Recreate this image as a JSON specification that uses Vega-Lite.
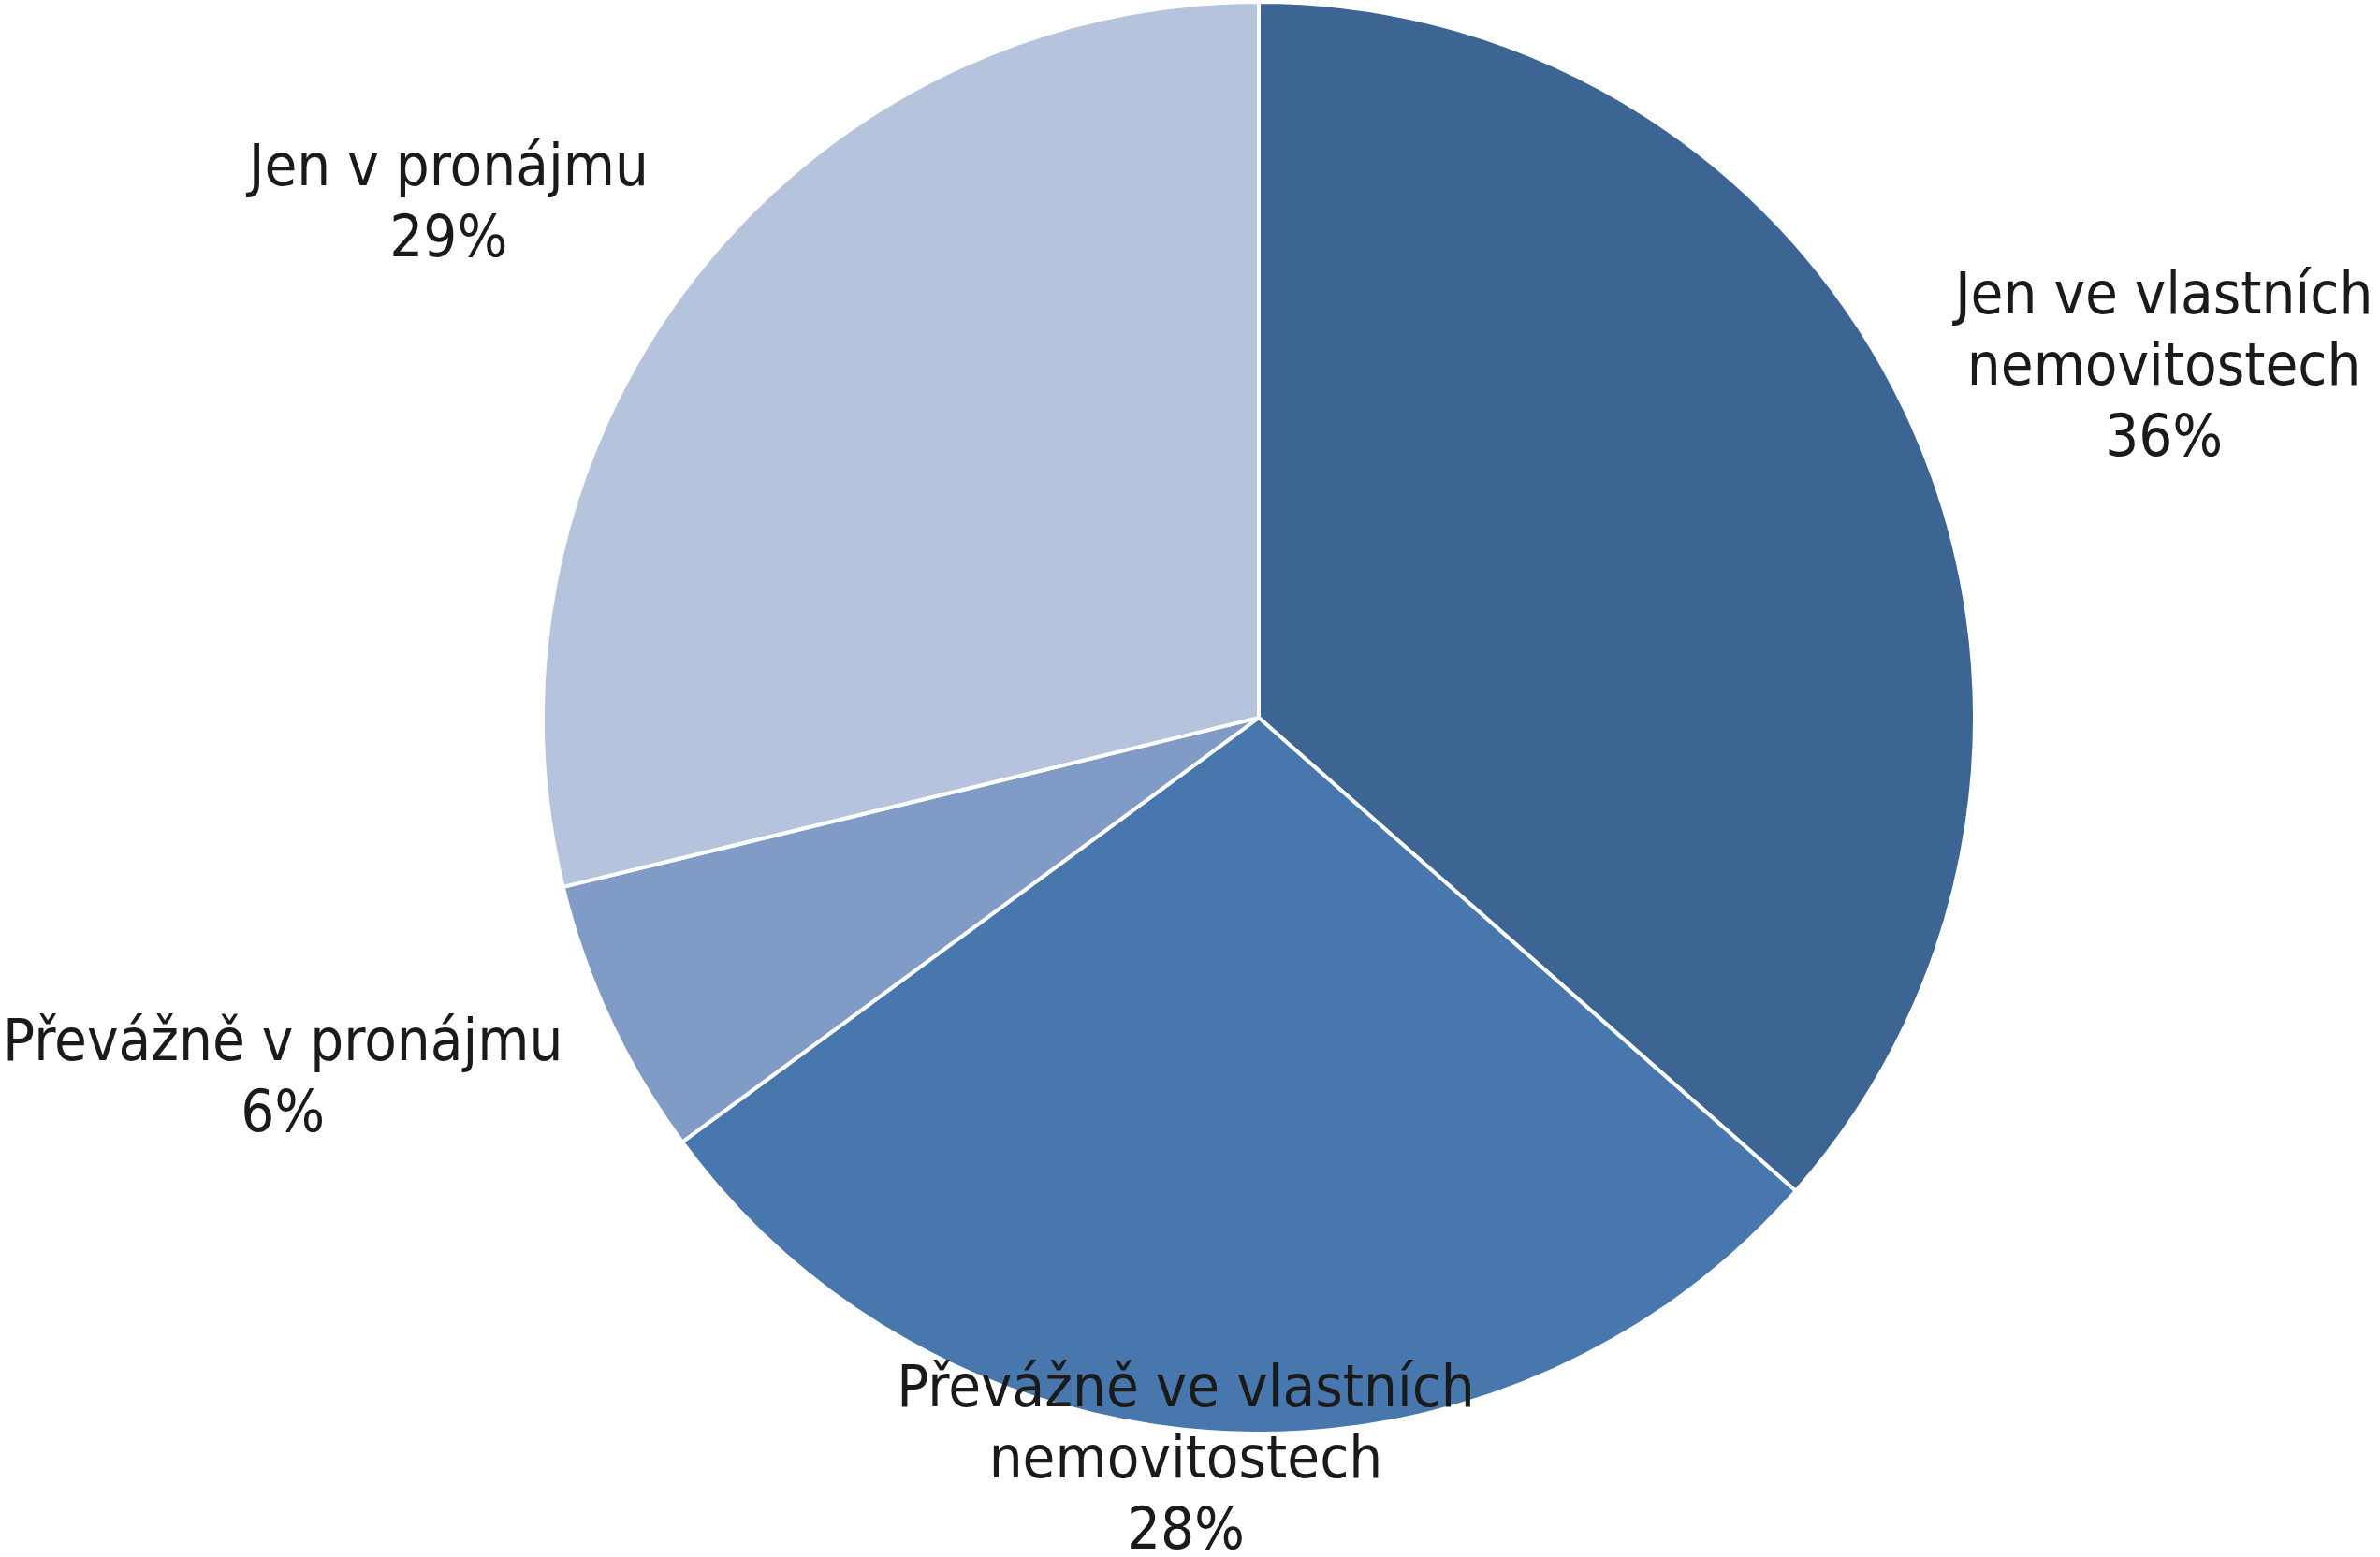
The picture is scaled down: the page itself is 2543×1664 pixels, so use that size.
{
  "$schema": "https://vega.github.io/schema/vega-lite/v6.json",
  "width": 2396,
  "height": 1534,
  "autosize": {"type": "none"},
  "padding": {"left": 147, "top": 0, "right": 0, "bottom": 130},
  "background": "white",
  "view": {"stroke": null},
  "config": {"text": {"font": "DejaVu Sans Condensed", "fontSize": 63, "lineHeight": 76, "color": "#1a1a1a", "align": "center", "baseline": "middle", "lineBreak": "\n"}},
  "data": {
    "values": [
      {"idx": 1, "category": "Jen ve vlastních nemovitostech", "share": 36.5, "label": "Jen ve vlastních\nnemovitostech\n36%"},
      {"idx": 2, "category": "Převážně ve vlastních nemovitostech", "share": 28.4, "label": "Převážně ve vlastních\nnemovitostech\n28%"},
      {"idx": 3, "category": "Převážně v pronájmu", "share": 6.3, "label": "Převážně v pronájmu\n6%"},
      {"idx": 4, "category": "Jen v pronájmu", "share": 28.8, "label": "Jen v pronájmu\n29%"}
    ]
  },
  "encoding": {
    "theta": {"field": "share", "type": "quantitative", "stack": true},
    "order": {"field": "idx", "type": "quantitative"},
    "detail": {"field": "category"}
  },
  "layer": [
    {
      "mark": {"type": "arc", "outerRadius": 765, "stroke": "white", "strokeWidth": 4},
      "encoding": {
        "color": {
          "field": "category",
          "type": "nominal",
          "scale": {
            "domain": ["Jen ve vlastních nemovitostech", "Převážně ve vlastních nemovitostech", "Převážně v pronájmu", "Jen v pronájmu"],
            "range": ["#3D6594", "#4877AE", "#7F9BC6", "#B5C3DC"]
          },
          "legend": null
        }
      }
    },
    {
      "mark": {"type": "text", "radius": 1037, "dx": 22, "dy": -24},
      "encoding": {"text": {"condition": {"test": "datum.idx === 1", "field": "label"}, "value": ""}}
    },
    {
      "mark": {"type": "text", "radius": 797, "dx": -43, "dy": -79},
      "encoding": {"text": {"condition": {"test": "datum.idx === 2", "field": "label"}, "value": ""}}
    },
    {
      "mark": {"type": "text", "radius": 1111, "dx": -36, "dy": -123},
      "encoding": {"text": {"condition": {"test": "datum.idx === 3", "field": "label"}, "value": ""}}
    },
    {
      "mark": {"type": "text", "radius": 1026, "dx": -59, "dy": 46},
      "encoding": {"text": {"condition": {"test": "datum.idx === 4", "field": "label"}, "value": ""}}
    }
  ]
}
